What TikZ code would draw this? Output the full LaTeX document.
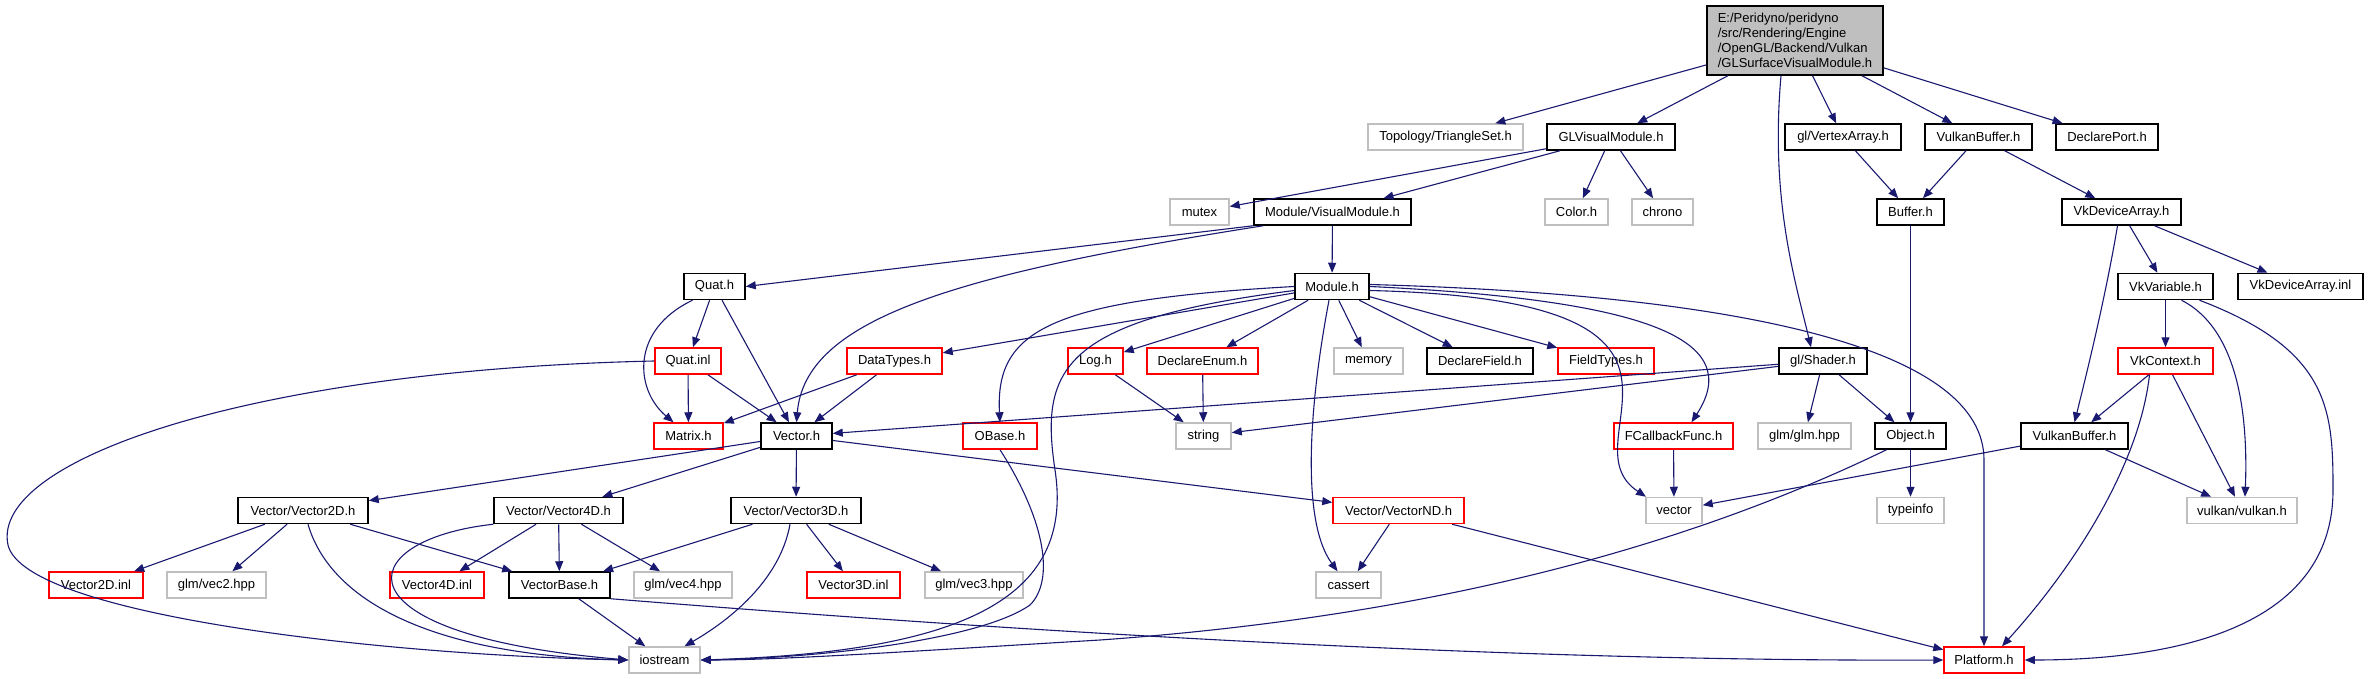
\documentclass[tikz,border=0pt]{standalone}
\usepackage{fontspec}
\setmainfont{Liberation Sans}
\usetikzlibrary{arrows.meta}
\definecolor{navy}{HTML}{191970}
\definecolor{boxgray}{HTML}{BFBFBF}
\tikzset{
  nd/.style={rectangle, line width=1.5pt, minimum height=26pt, inner sep=0pt, font=\fontsize{13}{15}\selectfont, minimum width=#1pt},
  hdr/.style={nd=#1, draw=black},
  ext/.style={nd=#1, draw=boxgray},
  undoc/.style={nd=#1, draw=red},
  dep/.style={navy, line width=1.1pt, -{Triangle[length=10pt,width=8pt]}}
}
\begin{document}
\begin{tikzpicture}[x=1pt, y=-1pt]
  \useasboundingbox (0,0) rectangle (2368,679);
  \node[hdr=176, fill=boxgray, minimum height=69pt, align=left] (root) at (1795,40.5) {E:/Peridyno/peridyno\\/src/Rendering/Engine\\/OpenGL/Backend/Vulkan\\/GLSurfaceVisualModule.h};
  \node[ext=155] (triset) at (1445.5,137) {Topology/TriangleSet.h};
  \node[hdr=128] (glvis) at (1611,137) {GLVisualModule.h};
  \node[hdr=116] (vtxarr) at (1843,137) {gl/VertexArray.h};
  \node[hdr=107] (vkbufa) at (1978.5,137) {VulkanBuffer.h};
  \node[hdr=102] (declport) at (2107,137) {DeclarePort.h};
  \node[ext=59] (mutex) at (1199.5,212) {mutex};
  \node[hdr=157] (vismod) at (1332.5,212) {Module/VisualModule.h};
  \node[ext=63] (color) at (1576.5,212) {Color.h};
  \node[ext=61] (chrono) at (1662.5,212) {chrono};
  \node[hdr=67] (buffer) at (1910.5,212) {Buffer.h};
  \node[hdr=119] (vkdevarr) at (2121.5,212) {VkDeviceArray.h};
  \node[hdr=61] (quat) at (714.5,286.5) {Quat.h};
  \node[hdr=74] (module) at (1332,286.5) {Module.h};
  \node[hdr=95] (vkvar) at (2165.5,286.5) {VkVariable.h};
  \node[hdr=125] (vkdevinl) at (2300.5,286.5) {VkDeviceArray.inl};
  \node[undoc=66] (quatinl) at (688,361) {Quat.inl};
  \node[undoc=95] (datatypes) at (894.5,361) {DataTypes.h};
  \node[undoc=55] (log) at (1095.5,361) {Log.h};
  \node[undoc=111] (declenum) at (1202.5,361) {DeclareEnum.h};
  \node[ext=69] (memory) at (1368.5,361) {memory};
  \node[hdr=106] (declfield) at (1480,361) {DeclareField.h};
  \node[undoc=96] (fieldtypes) at (1606,361) {FieldTypes.h};
  \node[hdr=88] (shader) at (1823,361) {gl/Shader.h};
  \node[undoc=95] (vkctx) at (2165.5,361) {VkContext.h};
  \node[undoc=69] (matrix) at (688.5,436) {Matrix.h};
  \node[hdr=71] (vech) at (796.5,436) {Vector.h};
  \node[undoc=74] (obase) at (1000,436) {OBase.h};
  \node[ext=55] (string) at (1203.5,436) {string};
  \node[undoc=119] (fcallback) at (1673.5,436) {FCallbackFunc.h};
  \node[ext=93] (glmglm) at (1804.5,436) {glm/glm.hpp};
  \node[hdr=71] (object) at (1910.5,436) {Object.h};
  \node[hdr=107] (vkbufb) at (2074.5,436) {VulkanBuffer.h};
  \node[hdr=130] (vec2d) at (303,510.5) {Vector/Vector2D.h};
  \node[hdr=129] (vec4d) at (558.5,510.5) {Vector/Vector4D.h};
  \node[hdr=130] (vec3d) at (796,510.5) {Vector/Vector3D.h};
  \node[undoc=131] (vecnd) at (1398.5,510.5) {Vector/VectorND.h};
  \node[ext=56] (stdvec) at (1674,510.5) {vector};
  \node[ext=67] (typeinfo) at (1910.5,510.5) {typeinfo};
  \node[ext=110] (vulkan) at (2242,510.5) {vulkan/vulkan.h};
  \node[undoc=94] (vec2inl) at (96,585) {Vector2D.inl};
  \node[ext=99] (glmvec2) at (216.5,585) {glm/vec2.hpp};
  \node[undoc=94] (vec4inl) at (437,585) {Vector4D.inl};
  \node[hdr=101] (vecbase) at (559.5,585) {VectorBase.h};
  \node[ext=98] (glmvec4) at (683,585) {glm/vec4.hpp};
  \node[undoc=93] (vec3inl) at (853.5,585) {Vector3D.inl};
  \node[ext=98] (glmvec3) at (974,585) {glm/vec3.hpp};
  \node[ext=65] (cassert) at (1348.5,585) {cassert};
  \node[ext=71] (iostream) at (664.5,660) {iostream};
  \node[undoc=80] (platform) at (1984,660) {Platform.h};
  \draw[dep] (root) -- (triset);
  \draw[dep] (root) -- (glvis);
  \draw[dep] (root) -- (vtxarr);
  \draw[dep] (root) -- (vkbufa);
  \draw[dep] (root) -- (declport);
  \draw[dep] ([xshift=-14pt]root.south) .. controls (1770,200) and (1795,280) .. ([xshift=-12pt]shader.north);
  \draw[dep] (glvis) -- (mutex);
  \draw[dep] (glvis) -- (vismod);
  \draw[dep] (glvis) -- (color);
  \draw[dep] (glvis) -- (chrono);
  \draw[dep] (vismod) -- (module);
  \draw[dep] (vismod.south west) -- (quat.east);
  \draw[dep] ([xshift=10pt]vismod.south west) .. controls (950,275) and (805,320) .. (vech.north);
  \draw[dep] (vtxarr) -- (buffer);
  \draw[dep] (vkbufa) -- (buffer);
  \draw[dep] (vkbufa) -- (vkdevarr);
  \draw[dep] (buffer) -- (object);
  \draw[dep] (vkdevarr) -- (vkvar);
  \draw[dep] (vkdevarr) -- (vkdevinl);
  \draw[dep] ([xshift=-4pt]vkdevarr.south) .. controls (2105,300) and (2085,380) .. (vkbufb.north);
  \draw[dep] (vkvar) -- (vkctx);
  \draw[dep] ([xshift=16pt]vkvar.south) .. controls (2240,330) and (2248,420) .. ([xshift=3pt]vulkan.north);
  \draw[dep] ([xshift=34pt]vkvar.south) .. controls (2330,350) and (2333,410) .. (2333,490) .. controls (2333,630) and (2170,660) .. (platform.east);
  \draw[dep] (vkctx) -- (vkbufb);
  \draw[dep] (vkctx) -- (vulkan);
  \draw[dep] ([xshift=-16pt]vkctx.south) .. controls (2140,460) and (2080,560) .. ([xshift=18pt]platform.north);
  \draw[dep] (vkbufb) -- (stdvec);
  \draw[dep] (vkbufb) -- (vulkan);
  \draw[dep] (quat) -- (quatinl);
  \draw[dep] (quat) -- (vech);
  \draw[dep] ([xshift=-22pt]quat.south) .. controls (630,330) and (635,390) .. ([xshift=-15pt]matrix.north);
  \draw[dep] (quatinl) -- (matrix);
  \draw[dep] (quatinl) -- (vech);
  \draw[dep] (quatinl.west) .. controls (250,370) and (-10,460) .. (8,545) .. controls (25,615) and (380,655) .. (iostream.west);
  \draw[dep] (module) -- (datatypes);
  \draw[dep] (module) -- (log);
  \draw[dep] (module) -- (declenum);
  \draw[dep] (module) -- (memory);
  \draw[dep] (module) -- (declfield);
  \draw[dep] (module) -- (fieldtypes);
  \draw[dep] (module.west) .. controls (1050,300) and (995,330) .. (obase.north);
  \draw[dep] ([yshift=-4pt]module.west) .. controls (1060,320) and (1040,370) .. (1055,470) .. controls (1075,600) and (960,652) .. (iostream.east);
  \draw[dep] ([xshift=-3pt]module.south) .. controls (1310,400) and (1300,520) .. ([xshift=-11pt]cassert.north);
  \draw[dep] (module.east) .. controls (1650,300) and (1745,340) .. ([xshift=18pt]fcallback.north);
  \draw[dep] ([yshift=-4pt]module.east) .. controls (1760,300) and (1560,440) .. ([xshift=-28pt]stdvec.north);
  \draw[dep] ([yshift=2pt]module.east) .. controls (1750,295) and (1984,350) .. (1984,460) -- (platform.north);
  \draw[dep] (datatypes) -- (matrix);
  \draw[dep] (datatypes) -- (vech);
  \draw[dep] (log) -- (string);
  \draw[dep] (declenum) -- (string);
  \draw[dep] (shader) -- (vech);
  \draw[dep] (shader) -- (string);
  \draw[dep] (shader) -- (glmglm);
  \draw[dep] (shader) -- (object);
  \draw[dep] (fcallback) -- (stdvec);
  \draw[dep] (object) -- (typeinfo);
  \draw[dep] ([xshift=-24pt]object.south) .. controls (1700,540) and (1450,615) .. (1100,640) .. controls (900,652) and (780,660) .. (iostream.east);
  \draw[dep] (obase.south) .. controls (1045,520) and (1055,580) .. (1030,605) .. controls (980,640) and (820,658) .. (iostream.east);
  \draw[dep] (vech) -- (vec2d);
  \draw[dep] (vech) -- (vec4d);
  \draw[dep] (vech) -- (vec3d);
  \draw[dep] (vech) -- (vecnd);
  \draw[dep] (vec2d) -- (vec2inl);
  \draw[dep] (vec2d) -- (glmvec2);
  \draw[dep] (vec2d) -- (vecbase);
  \draw[dep] ([xshift=5pt]vec2d.south) .. controls (330,600) and (430,655) .. (iostream.west);
  \draw[dep] (vec4d) -- (vec4inl);
  \draw[dep] (vec4d) -- (vecbase);
  \draw[dep] (vec4d) -- (glmvec4);
  \draw[dep] (vec4d.south west) .. controls (350,540) and (330,635) .. (iostream.west);
  \draw[dep] (vec3d) -- (vecbase);
  \draw[dep] (vec3d) -- (vec3inl);
  \draw[dep] (vec3d) -- (glmvec3);
  \draw[dep] ([xshift=-6pt]vec3d.south) .. controls (780,580) and (730,620) .. ([xshift=20pt]iostream.north);
  \draw[dep] (vecnd) -- (cassert);
  \draw[dep] (vecnd) -- (platform);
  \draw[dep] (vecbase) -- (iostream);
  \draw[dep] (vecbase.south east) .. controls (1000,630) and (1500,662) .. (platform.west);
\end{tikzpicture}
\end{document}
